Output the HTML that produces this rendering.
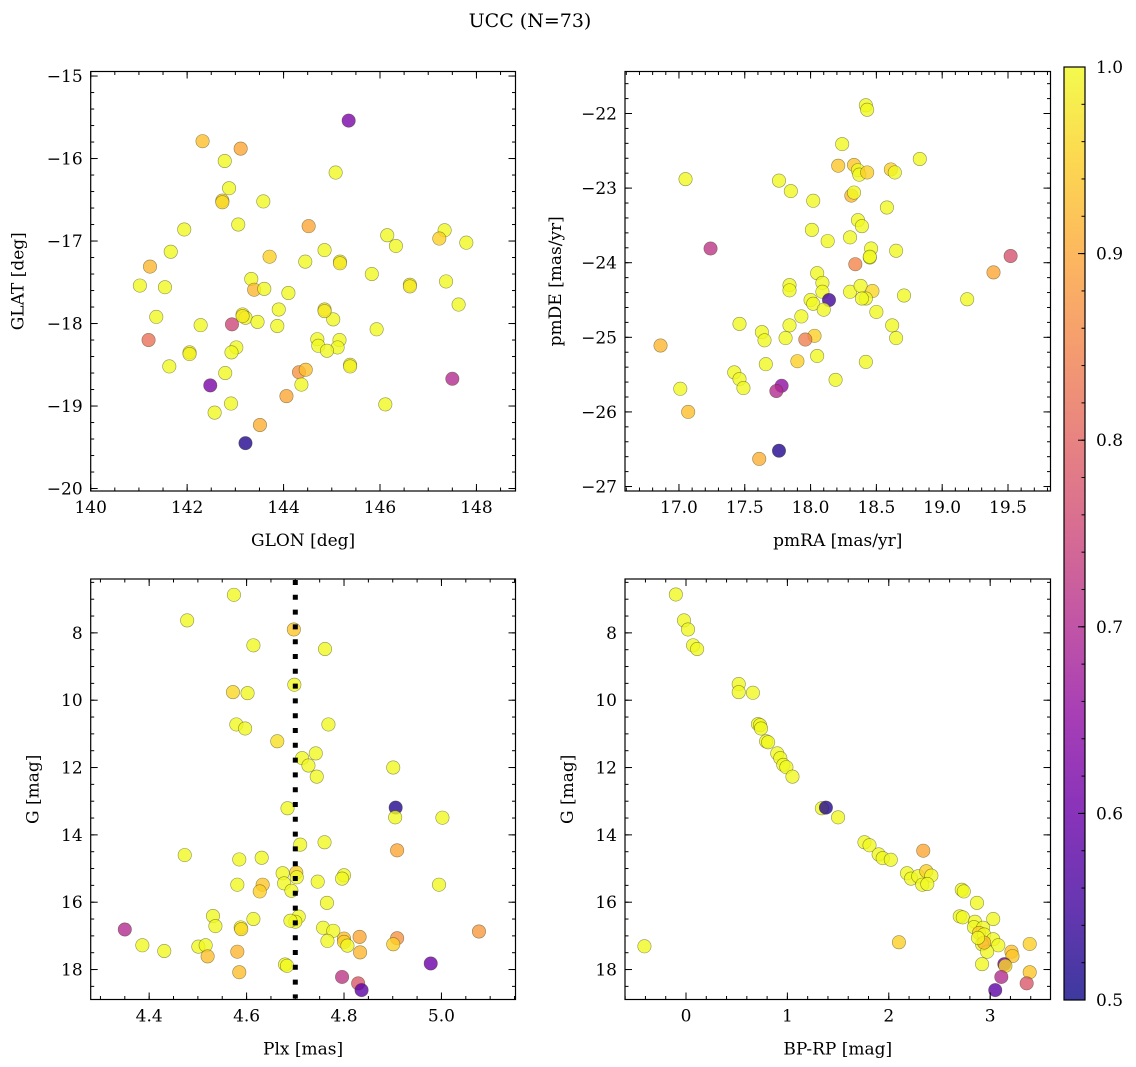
<!DOCTYPE html>
<html><head><meta charset="utf-8"><title>UCC (N=73)</title>
<style>html,body{margin:0;padding:0;background:#fff;}svg{display:block;font-family:"DejaVu Serif","Liberation Serif",serif;}</style>
</head><body>
<svg id="fig" width="1136" height="1067" viewBox="0 0 1136 1067" xmlns="http://www.w3.org/2000/svg">
<rect width="1136" height="1067" fill="#fff"/>
<text x="530" y="27" font-size="19" text-anchor="middle" fill="#000">UCC (N=73)</text>
<defs>
<linearGradient id="plasmaGrad" x1="0" y1="1" x2="0" y2="0">
<stop offset="0" stop-color="#0d0887"/><stop offset="0.1" stop-color="#41049d"/><stop offset="0.2" stop-color="#6a00a8"/><stop offset="0.3" stop-color="#8f0da4"/><stop offset="0.4" stop-color="#b12a90"/><stop offset="0.5" stop-color="#cc4778"/><stop offset="0.6" stop-color="#e16462"/><stop offset="0.7" stop-color="#f2844b"/><stop offset="0.8" stop-color="#fca636"/><stop offset="0.9" stop-color="#fcce25"/><stop offset="1" stop-color="#f0f921"/>
</linearGradient>
</defs>
</svg>
<script>
// ---------- data ----------
const p1Glon=[145.35,142.32,143.11,142.78,145.08,142.87,142.73,143.58,143.06,144.52,141.94,146.15,147.34,147.23,147.79,146.33,144.85,141.66,143.71,144.45,145.17,141.23,145.83,141.02,141.54,143.33,143.39,143.60,144.10,146.62,147.37,147.63,143.90,144.85,143.15,143.21,145.03,143.46,141.36,142.28,142.93,143.87,145.93,141.20,144.70,145.16,144.72,145.12,144.90,143.02,142.92,142.05,145.38,141.63,144.32,144.46,142.79,147.50,142.48,144.37,144.06,146.11,142.91,142.57,143.51,143.21,146.62,145.38,142.05,144.85,145.17,143.15,142.73];
const p1Glat=[-15.54,-15.79,-15.88,-16.03,-16.17,-16.36,-16.51,-16.52,-16.80,-16.82,-16.86,-16.93,-16.87,-16.97,-17.02,-17.06,-17.11,-17.13,-17.19,-17.25,-17.25,-17.31,-17.40,-17.54,-17.56,-17.46,-17.59,-17.58,-17.63,-17.53,-17.49,-17.77,-17.83,-17.83,-17.89,-17.93,-17.95,-17.98,-17.92,-18.02,-18.01,-18.03,-18.07,-18.20,-18.19,-18.20,-18.27,-18.29,-18.33,-18.29,-18.35,-18.35,-18.50,-18.52,-18.59,-18.56,-18.60,-18.67,-18.75,-18.74,-18.88,-18.98,-18.97,-19.08,-19.23,-19.45,-17.55,-18.52,-18.37,-17.85,-17.27,-17.91,-16.53];
const p1Prob=[0.62,0.93,0.90,1,1,1,0.96,1,1,0.90,1,1,1,0.95,1,1,1,1,0.95,1,0.98,0.92,1,1,1,1,0.92,1,1,0.98,1,1,1,0.98,0.98,1,1,1,1,1,0.75,1,1,0.82,1,1,1,1,1,1,1,0.99,0.99,1,0.87,0.93,1,0.70,0.62,1,0.90,1,1,1,0.91,0.52,0.98,0.99,0.99,0.98,0.98,0.98,0.96];

const p2PmRA=[18.42,18.43,18.24,18.83,18.21,18.33,18.36,18.37,18.43,18.61,18.64,17.05,17.76,17.85,18.02,18.31,18.33,18.58,18.36,18.39,18.01,18.30,18.13,18.46,18.45,18.65,17.24,18.34,19.52,19.39,18.05,18.09,18.09,17.84,17.84,18.30,18.38,18.47,18.42,18.39,18.71,19.19,18.00,18.02,18.14,18.10,17.93,18.50,17.46,17.84,17.63,17.65,17.81,18.03,17.96,18.62,18.65,16.86,18.05,17.90,18.42,17.66,18.19,17.42,17.46,17.49,17.01,17.78,17.74,17.07,17.76,17.61,18.45];
const p2PmDE=[-21.89,-21.95,-22.41,-22.61,-22.70,-22.69,-22.76,-22.82,-22.79,-22.75,-22.79,-22.88,-22.90,-23.04,-23.17,-23.10,-23.06,-23.26,-23.43,-23.51,-23.56,-23.66,-23.71,-23.81,-23.93,-23.84,-23.81,-24.02,-23.91,-24.13,-24.14,-24.27,-24.39,-24.30,-24.37,-24.39,-24.31,-24.38,-24.48,-24.48,-24.44,-24.49,-24.50,-24.55,-24.50,-24.63,-24.72,-24.66,-24.82,-24.84,-24.93,-25.04,-25.01,-24.98,-25.03,-24.84,-25.01,-25.11,-25.25,-25.32,-25.33,-25.36,-25.57,-25.47,-25.56,-25.68,-25.69,-25.65,-25.72,-26.00,-26.52,-26.63,-23.92];
const p2Prob=[1,1,1,1,0.94,0.94,1,1,0.95,0.95,1,1,1,1,1,0.92,1,1,1,1,1,1,1,1,1,1,0.72,0.85,0.77,0.90,1,1,1,1,1,1,1,0.96,1,1,1,1,1,1,0.55,1,1,1,1,1,1,1,1,0.95,0.84,1,1,0.92,1,0.95,1,1,1,1,1,1,1,0.65,0.70,0.93,0.52,0.91,1];

const p3Plx=[4.574,4.478,4.697,4.614,4.761,4.698,4.572,4.602,4.579,4.597,4.768,4.663,4.742,4.714,4.727,4.744,4.901,4.684,4.906,4.905,5.002,4.710,4.760,4.909,4.473,4.585,4.631,4.674,4.702,4.703,4.800,4.796,4.746,4.995,4.581,4.633,4.627,4.677,4.692,4.765,4.531,4.536,4.614,4.707,4.700,4.588,4.589,4.350,4.757,4.778,4.800,4.800,4.807,4.766,4.832,4.833,4.909,4.901,5.077,4.386,4.431,4.501,4.516,4.520,4.581,4.585,4.679,4.683,4.978,4.796,4.829,4.836,4.690];
const p3G=[6.87,7.63,7.90,8.37,8.48,9.54,9.76,9.79,10.72,10.84,10.72,11.22,11.58,11.72,11.94,12.27,12.00,13.21,13.19,13.48,13.49,14.29,14.22,14.46,14.60,14.73,14.68,15.14,15.12,15.26,15.20,15.30,15.39,15.48,15.48,15.48,15.68,15.44,15.66,16.02,16.41,16.71,16.50,16.43,16.58,16.75,16.80,16.81,16.76,16.85,17.08,17.18,17.29,17.15,17.03,17.49,17.07,17.25,16.87,17.28,17.45,17.32,17.28,17.61,17.47,18.08,17.85,17.89,17.82,18.22,18.41,18.61,16.55];
const p3Prob=[1,1,0.94,1,1,1,0.96,1,1,1,1,0.97,1,1,1,1,1,1,0.52,1,1,1,1,0.90,1,1,1,1,0.95,1,1,1,1,1,1,0.94,0.95,1,1,1,1,1,1,1,1,1,0.96,0.70,1,1,0.93,0.95,1,1,0.90,0.92,0.87,0.95,0.88,1,1,1,1,0.93,0.92,0.93,1,1,0.60,0.72,0.78,0.58,1];
const plxRef=[4.70];

const p4Color=[-0.10,-0.02,0.02,0.07,0.11,0.52,0.52,0.66,0.71,0.73,0.74,0.79,0.81,0.90,0.93,0.96,0.99,1.05,1.34,1.38,1.50,1.76,1.81,1.90,1.94,2.02,2.34,2.18,2.22,2.29,2.37,2.42,2.33,2.38,2.72,2.74,2.87,3.03,2.70,2.73,2.85,2.84,2.93,2.89,2.94,3.03,3.08,2.92,2.97,2.92,3.21,3.22,3.39,3.39,3.14,3.15,3.11,3.36,3.05,2.10,-0.41,2.94,2.88];
const p4G=[6.86,7.63,7.90,8.37,8.48,9.52,9.76,9.78,10.71,10.74,10.84,11.22,11.25,11.58,11.72,11.92,11.99,12.27,13.21,13.19,13.48,14.22,14.31,14.58,14.69,14.74,14.47,15.14,15.30,15.23,15.08,15.21,15.48,15.46,15.63,15.68,16.02,16.50,16.42,16.45,16.58,16.74,16.76,16.91,16.96,17.10,17.28,17.25,17.47,17.84,17.47,17.60,17.24,18.08,17.84,17.89,18.22,18.41,18.61,17.19,17.31,17.20,17.06];
const p4Prob=[1,1,1,1,1,1,1,1,1,1,1,1,1,1,1,1,1,1,1,0.52,1,1,1,1,1,1,0.90,1,1,1,0.95,1,1,1,1,1,1,1,1,1,1,1,1,0.95,1,1,1,1,1,1,0.93,0.94,0.95,0.94,0.60,0.96,0.70,0.78,0.58,0.95,1,0.92,1];

const p1XTicks=[140,142,144,146,148];
const p1YTicks=[-15,-16,-17,-18,-19,-20];
const p2XTicks=[17.0,17.5,18.0,18.5,19.0,19.5];
const p2YTicks=[-22,-23,-24,-25,-26,-27];
const p3XTicks=[4.4,4.6,4.8,5.0];
const gTicks=[8,10,12,14,16,18];
const p4XTicks=[0,1,2,3];
const cbTicks=[0.5,0.6,0.7,0.8,0.9,1.0];

// ---------- helpers ----------
const NS="http://www.w3.org/2000/svg";
const svg=document.getElementById('fig');
function mk(tag,attrs,parent){const e=document.createElementNS(NS,tag);for(const k in attrs)e.setAttribute(k,attrs[k]);(parent||svg).appendChild(e);return e;}
const PL=[[13,8,135],[65,4,157],[106,0,168],[143,13,164],[177,42,144],[204,71,120],[225,100,98],[242,132,75],[252,166,54],[252,206,37],[240,249,33]];
function plasma(p){let t=Math.max(0,Math.min(1,(p-0.5)/0.5))*10;const i=Math.min(9,Math.floor(t));const f=t-i;const a=PL[i],b=PL[i+1];return 'rgb('+a.map((v,k)=>Math.round(v+(b[k]-v)*f)).join(',')+')';}
function fmt(v,d){return (v<0?'\u2212':'')+Math.abs(v).toFixed(d);}

function panel(c){
  const g=mk('g',{});
  
  
  const sx=v=>c.L+(v-c.x0)/(c.x1-c.x0)*(c.R-c.L);
  const sy=v=>c.T+(v-c.y0)/(c.y1-c.y0)*(c.B-c.T);
  const clipId='clip-'+c.name;
  const cp=mk('clipPath',{id:clipId},g);mk('rect',{x:c.L,y:c.T,width:c.R-c.L,height:c.B-c.T},cp);
  const pg=mk('g',{'clip-path':'url(#'+clipId+')'},g);
  if(c.vline){
    const ln=mk('line',{x1:sx(c.vline[0]),x2:sx(c.vline[0]),y1:c.T,y2:c.B,stroke:'#000','stroke-width':5,'stroke-dasharray':'5 9.8'},pg);
    
    
  }
  for(let i=0;i<c.xs.length;i++){
    const ci=mk('circle',{cx:sx(c.xs[i]),cy:sy(c.ys[i]),r:6.7,fill:plasma(c.ps[i]),'fill-opacity':0.8,stroke:'rgba(60,60,20,0.55)','stroke-width':0.6},pg);
    
    
  }
  const tk={stroke:'#000','stroke-width':1};
  for(let v=Math.ceil(Math.min(c.x0,c.x1)/c.xm-1e-6)*c.xm;v<=Math.max(c.x0,c.x1)+1e-9;v+=c.xm){const x=sx(v);mk('line',Object.assign({x1:x,x2:x,y1:c.B,y2:c.B-3.5},tk),g);mk('line',Object.assign({x1:x,x2:x,y1:c.T,y2:c.T+3.5},tk),g);}
  const ylo=Math.min(c.y0,c.y1),yhi=Math.max(c.y0,c.y1);
  for(let v=Math.ceil(ylo/c.ym-1e-6)*c.ym;v<=yhi+1e-9;v+=c.ym){const y=sy(v);mk('line',Object.assign({x1:c.L,x2:c.L+3.5,y1:y,y2:y},tk),g);mk('line',Object.assign({x1:c.R,x2:c.R-3.5,y1:y,y2:y},tk),g);}
  c.xt.forEach(v=>{const x=sx(v);mk('line',Object.assign({x1:x,x2:x,y1:c.B,y2:c.B-7},tk),g);mk('line',Object.assign({x1:x,x2:x,y1:c.T,y2:c.T+7},tk),g);
    const t=mk('text',{x:x,y:c.B+22,'font-size':17,'text-anchor':'middle',fill:'#000'},g);t.textContent=fmt(v,c.xd);
    
    });
  c.yt.forEach(v=>{const y=sy(v);mk('line',Object.assign({x1:c.L,x2:c.L+7,y1:y,y2:y},tk),g);mk('line',Object.assign({x1:c.R,x2:c.R-7,y1:y,y2:y},tk),g);
    const t=mk('text',{x:c.L-8,y:y+6,'font-size':17,'text-anchor':'end',fill:'#000'},g);t.textContent=fmt(v,0);
    
    });
  mk('rect',{x:c.L,y:c.T,width:c.R-c.L,height:c.B-c.T,fill:'none',stroke:'#000','stroke-width':1.2},g);
  const xl=mk('text',{x:(c.L+c.R)/2,y:c.B+55,'font-size':17,'text-anchor':'middle',fill:'#000'},g);xl.textContent=c.xlab;
  
  
  const yx=c.L-c.yoff,yy=(c.T+c.B)/2;
  const yl=mk('text',{x:yx,y:yy,'font-size':17,'text-anchor':'middle',fill:'#000',transform:'rotate(-90 '+yx+' '+yy+')'},g);yl.textContent=c.ylab;
  
  
}

panel({name:'glon-glat-panel',L:90.7,R:515.5,T:71.5,B:491,x0:140.0,x1:148.81,y0:-14.945,y1:-20.03,xm:0.5,ym:0.2,xt:p1XTicks,yt:p1YTicks,xd:0,xs:p1Glon,ys:p1Glat,ps:p1Prob,xlab:'GLON [deg]',ylab:'GLAT [deg]',yoff:67});
panel({name:'proper-motion-panel',L:625,R:1050.5,T:71.5,B:491,x0:16.59,x1:19.823,y0:-21.437,y1:-27.06,xm:0.1,ym:0.2,xt:p2XTicks,yt:p2YTicks,xd:1,xs:p2PmRA,ys:p2PmDE,ps:p2Prob,xlab:'pmRA [mas/yr]',ylab:'pmDE [mas/yr]',yoff:64});
panel({name:'plx-g-panel',L:90.7,R:515.5,T:579,B:999.5,x0:4.280,x1:5.152,y0:6.40,y1:18.89,xm:0.05,ym:0.5,xt:p3XTicks,yt:gTicks,xd:1,xs:p3Plx,ys:p3G,ps:p3Prob,xlab:'Plx [mas]',ylab:'G [mag]',yoff:52});
panel({name:'cmd-panel',L:625,R:1050.5,T:579,B:999.5,x0:-0.6016,x1:3.595,y0:6.40,y1:18.89,xm:0.2,ym:0.5,xt:p4XTicks,yt:gTicks,xd:0,xs:p4Color,ys:p4G,ps:p4Prob,xlab:'BP-RP [mag]',ylab:'G [mag]',yoff:52});
</script>
<script>
// reference line for plx panel drawn via panel config above is omitted there; draw here with axis mapping
(function(){
  const L=90.7,R=515.5,T=579,B=999.5,x0=4.280,x1=5.152;
  const sx=v=>L+(v-x0)/(x1-x0)*(R-L);
  const ln=mk('line',{x1:sx(plxRef[0]),x2:sx(plxRef[0]),y1:T+1,y2:B-1,stroke:'#000','stroke-width':5,'stroke-dasharray':'5 9.8'});
  
  
})();
// colorbar
(function(){
  const L=1064,R=1085,T=67,B=1000;
  const g=mk('g',{});
  
  
  mk('rect',{x:L,y:T,width:R-L,height:B-T,fill:'url(#plasmaGrad)','fill-opacity':0.8},g);
  const sy=v=>B-(v-0.5)/0.5*(B-T);
  for(let v=0.5;v<=1.0001;v+=0.02){const y=sy(v);mk('line',{x1:R,x2:R-3.5,y1:y,y2:y,stroke:'#000','stroke-width':1},g);}
  cbTicks.forEach(v=>{const y=sy(v);mk('line',{x1:R,x2:R-7,y1:y,y2:y,stroke:'#000','stroke-width':1},g);
    const t=mk('text',{x:R+11,y:y+6,'font-size':17,fill:'#000'},g);t.textContent=v.toFixed(1);
    
    });
  mk('rect',{x:L,y:T,width:R-L,height:B-T,fill:'none',stroke:'#000','stroke-width':1.2},g);
})();
</script>
</body></html>
